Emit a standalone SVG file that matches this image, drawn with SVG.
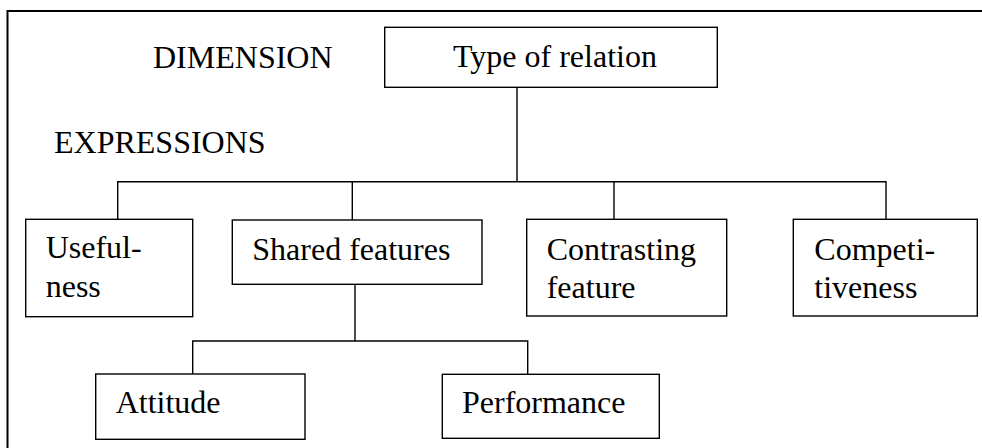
<svg xmlns="http://www.w3.org/2000/svg" width="982" height="448" viewBox="0 0 982 448">
  <style>
    .frame { fill: none; stroke: #000; stroke-width: 2; }
    .box { fill: #fff; stroke: #000; stroke-width: 1.4; }
    .wire { fill: none; stroke: #000; stroke-width: 1.4; }
    .label { font-family: 'Liberation Serif', 'Times New Roman', Tinos, 'DejaVu Serif', serif; font-size: 32px; fill: #000; }
  </style>
  <rect width="982" height="448" fill="#fff"/>

  <!-- outer frame: top and left edges -->
  <path class="frame" d="M7.5 449 V11 H983"/>

  <!-- level captions -->
  <text class="label" x="153" y="68">DIMENSION</text>
  <text class="label" x="54" y="153">EXPRESSIONS</text>

  <g id="connectors">
    <path class="wire" d="M517 87.3 V181.7"/>
    <path class="wire" d="M117.7 219.3 V181.7 H886 V219.3"/>
    <path class="wire" d="M352.3 181.7 V220"/>
    <path class="wire" d="M614 181.7 V219.3"/>
    <path class="wire" d="M355 284.3 V341"/>
    <path class="wire" d="M192.7 374 V341 H527.7 V374.3"/>
  </g>

  <g id="type-of-relation">
    <rect class="box" x="384.7" y="27.3" width="332.6" height="60"/>
    <text class="label" x="453" y="66.5">Type of relation</text>
  </g>

  <g id="usefulness">
    <rect class="box" x="25.7" y="219.3" width="167" height="97.4"/>
    <text class="label" x="45.7" y="258">Useful-</text>
    <text class="label" x="45.7" y="297">ness</text>
  </g>

  <g id="shared-features">
    <rect class="box" x="232.3" y="220" width="249.7" height="64.3"/>
    <text class="label" x="252.3" y="260">Shared features</text>
  </g>

  <g id="contrasting-feature">
    <rect class="box" x="526.7" y="219.3" width="200" height="96.7"/>
    <text class="label" x="546.7" y="259.5">Contrasting</text>
    <text class="label" x="546.7" y="298.3">feature</text>
  </g>

  <g id="competitiveness">
    <rect class="box" x="793.3" y="219.3" width="184" height="96.7"/>
    <text class="label" x="814.3" y="260">Competi-</text>
    <text class="label" x="814.3" y="298.3">tiveness</text>
  </g>

  <g id="attitude">
    <rect class="box" x="95.7" y="374" width="209.3" height="65.3"/>
    <text class="label" x="115.7" y="413.3">Attitude</text>
  </g>

  <g id="performance">
    <rect class="box" x="442.3" y="374.3" width="217" height="64"/>
    <text class="label" x="462" y="413.3">Performance</text>
  </g>
</svg>
